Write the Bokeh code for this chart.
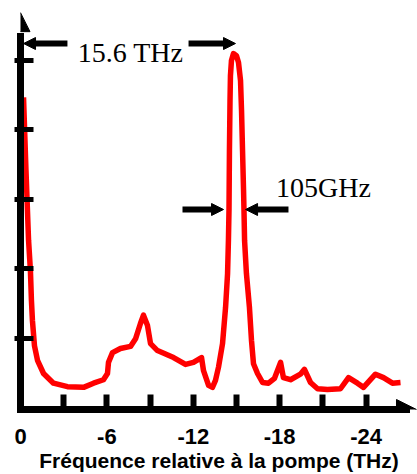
from bokeh.plotting import figure
from bokeh.models import Range1d, FixedTicker, Arrow, NormalHead, Label
from bokeh.embed import file_html
from bokeh.resources import INLINE

# Spectrum (frequency relative to pump in THz, intensity in arbitrary units)
freq_thz = [-0.21, -0.38, -0.56, -0.69, -0.76, -0.83, -0.97, -1.18, -1.60, -2.29,
            -3.26, -4.38, -5.07, -5.76, -6.04, -6.11, -6.39, -6.94, -7.64, -7.99,
            -8.33, -8.54, -8.82, -9.03, -9.51, -10.63, -11.46, -12.01, -12.57, -12.71,
            -13.06, -13.33, -13.54, -13.75, -14.03, -14.24, -14.38, -14.44, -14.48, -14.51,
            -14.55, -14.58, -14.65, -14.79, -15.00, -15.14, -15.28, -15.35, -15.42, -15.49,
            -15.52, -15.56, -15.69, -15.90, -16.04, -16.18, -16.46, -16.81, -17.22, -17.64,
            -18.06, -18.26, -18.75, -19.44, -19.72, -20.14, -20.63, -21.32, -22.22, -22.78,
            -23.40, -23.82, -24.65, -25.21, -25.83, -26.39]
intensity = [4.47, 3.42, 2.41, 1.97, 1.54, 1.25, 0.89, 0.68, 0.49, 0.35,
             0.30, 0.29, 0.35, 0.40, 0.49, 0.65, 0.79, 0.85, 0.88, 0.99,
             1.21, 1.33, 1.18, 0.92, 0.82, 0.72, 0.62, 0.65, 0.72, 0.53,
             0.32, 0.29, 0.39, 0.58, 0.92, 1.44, 1.93, 2.41, 2.85, 3.70,
             4.42, 4.78, 5.00, 5.10, 5.07, 4.97, 4.71, 4.28, 3.70, 3.13,
             2.85, 2.41, 1.93, 1.44, 0.97, 0.63, 0.49, 0.36, 0.35, 0.42,
             0.65, 0.43, 0.40, 0.48, 0.55, 0.36, 0.27, 0.26, 0.27, 0.43,
             0.35, 0.29, 0.48, 0.43, 0.35, 0.36]

x_major_ticks = [0, -6, -12, -18, -24]
x_tick_labels = ["0", "-6", "-12", "-18", "-24"]
x_minor_ticks = [-3, -9, -15, -21]
y_ticks = [1, 2, 3, 4, 5]
x_label = "Fréquence relative à la pompe (THz)"

# annotations
spacing_text = "15.6 THz"
spacing_text_pos = (-7.64, 5.115)
spacing_left_arrow = (-3.26, -0.21, 5.245)
spacing_right_arrow = (-11.67, -14.93, 5.245)
width_text = "105GHz"
width_text_pos = (-21.04, 3.17)
width_left_arrow = (-11.25, -14.10, 2.853)
width_right_arrow = (-18.61, -15.63, 2.853)

X_START, X_END = 0.0, -27.57
Y_START, Y_END = -0.029, 5.865

p = figure(width=417, height=474, output_backend="svg", toolbar_location=None,
           x_range=Range1d(X_START, X_END), y_range=Range1d(Y_START, Y_END),
           min_border_left=20, min_border_right=0, min_border_top=0, min_border_bottom=65)
p.outline_line_color = None
p.grid.visible = False
p.background_fill_color = "white"
p.border_fill_color = "white"

p.line(freq_thz, intensity, line_color="#ff0000", line_width=5.5, line_join="round")

ya = p.yaxis[0]
ya.ticker = FixedTicker(ticks=y_ticks)
ya.major_tick_in = 13
ya.major_tick_out = 6
ya.major_tick_line_width = 5
ya.major_tick_line_color = "black"
ya.minor_tick_line_color = None
ya.major_label_overrides = {t: "" for t in y_ticks}
ya.major_label_standoff = 0
ya.axis_line_width = 7
ya.axis_line_color = "black"
ya.axis_line_cap = "square"
ya.bounds = (Y_START, 5.35)

xa = p.xaxis[0]
xa.ticker = FixedTicker(ticks=x_major_ticks, minor_ticks=x_minor_ticks)
xa.major_label_overrides = dict(zip(x_major_ticks, x_tick_labels))
xa.major_tick_in = 15
xa.major_tick_out = 0
xa.major_tick_line_width = 6
xa.major_tick_line_color = "black"
xa.minor_tick_in = 15
xa.minor_tick_out = 0
xa.minor_tick_line_width = 6
xa.minor_tick_line_color = "black"
xa.axis_line_width = 7
xa.axis_line_color = "black"
xa.axis_line_cap = "square"
xa.bounds = (-26.8, 0)
xa.major_label_text_font = "Liberation Sans"
xa.major_label_text_font_style = "bold"
xa.major_label_text_font_size = "22px"
xa.major_label_text_line_height = 1.0
xa.major_label_text_color = "black"
xa.major_label_standoff = 19
xa.axis_label = x_label
xa.axis_label_text_font = "Liberation Sans"
xa.axis_label_text_font_style = "bold"
xa.axis_label_text_font_size = "21px"
xa.axis_label_text_line_height = 1.0
xa.axis_label_text_color = "black"
xa.axis_label_standoff = 2

# axis arrow heads
p.add_layout(Arrow(end=NormalHead(size=19, fill_color="black", line_color="black"),
                   x_start=0, y_start=5.3, x_end=0, y_end=5.69, line_alpha=0))
p.add_layout(Arrow(end=NormalHead(size=20, fill_color="black", line_color="black"),
                   x_start=-26.6, y_start=Y_START, x_end=-27.5, y_end=Y_START, line_alpha=0))

for xs, xe, yy in (spacing_left_arrow, spacing_right_arrow, width_left_arrow, width_right_arrow):
    p.add_layout(Arrow(end=NormalHead(size=12, fill_color="black", line_color="black"),
                       x_start=xs, y_start=yy, x_end=xe, y_end=yy,
                       line_width=6, line_color="black"))

for txt, (tx, ty) in ((spacing_text, spacing_text_pos), (width_text, width_text_pos)):
    p.add_layout(Label(x=tx, y=ty, text=txt, text_font="Liberation Serif",
                       text_font_size="28px", text_align="center",
                       text_baseline="alphabetic", text_color="black"))

open("out.html", "w").write(file_html(p, INLINE))
